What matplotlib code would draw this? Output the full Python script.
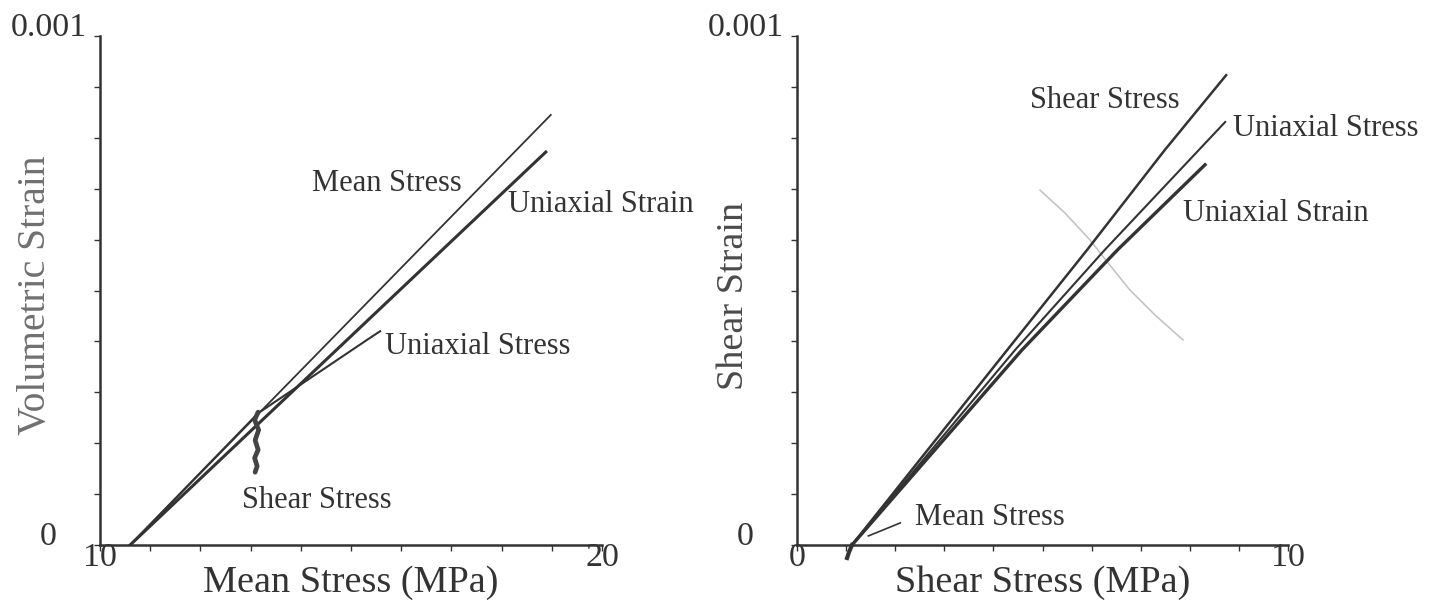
import matplotlib
matplotlib.use('Agg')
import matplotlib.pyplot as plt

plt.rcParams['font.family'] = ['Liberation Serif', 'DejaVu Serif']
INK = '#333333'

# ---- left panel: volumetric strain vs mean stress ----
left_mean_x = [10.6, 18.98]
left_mean_y = [0.0, 0.000845]
left_ustrain_x = [10.6, 18.88]
left_ustrain_y = [0.0, 0.000772]
left_ustress_x = [10.6, 13.15, 15.32, 15.58]
left_ustress_y = [0.0, 0.000259, 0.000403, 0.000420]
left_shear_x = [13.15, 13.08, 13.16, 13.09, 13.15, 13.08, 13.13, 13.09]
left_shear_y = [0.000261, 0.000246, 0.000226, 0.000206, 0.000187, 0.000171, 0.000155, 0.000143]

# ---- right panel: shear strain vs shear stress ----
right_shear_x = [1.12, 4.28, 5.91, 7.49, 8.74]
right_shear_y = [0.0, 0.000383, 0.000580, 0.000776, 0.000923]
right_ustress_x = [1.12, 4.44, 6.27, 8.72]
right_ustress_y = [0.0, 0.000383, 0.000580, 0.000831]
right_ustrain_x = [1.12, 4.58, 6.53, 8.31]
right_ustrain_y = [0.0, 0.000383, 0.000580, 0.000747]
right_mean_x = [1.12, 1.06, 1.02]
right_mean_y = [0.0, -0.0000138, -0.0000255]
arc_x = [4.95, 5.46, 5.97, 6.37, 6.78, 7.29, 7.86]
arc_y = [0.000697, 0.000652, 0.000599, 0.000550, 0.000501, 0.000452, 0.000403]

fig = plt.figure(figsize=(14.35, 6.08), dpi=100)
axL = fig.add_axes([100 / 1435, 63 / 608, 502 / 1435, 509 / 608])
axR = fig.add_axes([797 / 1435, 63 / 608, 491 / 1435, 509 / 608])


def style(ax, xlim, xticks, xlabels, xlabel, ylabel, ysize, ycolor):
    ax.set_xlim(*xlim)
    ax.set_ylim(0, 0.001)
    for s in ['top', 'right']:
        ax.spines[s].set_visible(False)
    for s in ['left', 'bottom']:
        ax.spines[s].set_linewidth(1.8)
        ax.spines[s].set_color(INK)
    ax.set_xticks(xticks)
    ax.set_xticklabels(xlabels)
    yt = [i * 0.0001 for i in range(11)]
    ax.set_yticks(yt)
    ax.set_yticklabels(['0'] + [''] * 9 + ['0.001'])
    ax.tick_params(direction='out', length=4, width=1, colors=INK, labelsize=24.5)
    ax.tick_params(axis='x', pad=-6)
    ax.tick_params(axis='y', pad=33)
    for lbl in ax.get_yticklabels():
        lbl.set_ha('center')
        lbl.set_va('baseline')
    ax.set_xlabel(xlabel, fontsize=27.5, color=INK, va='center')
    ax.xaxis.set_label_coords(0.5, -0.075)
    ax.set_ylabel(ylabel, fontsize=ysize, color=ycolor, va='center')
    ax.yaxis.set_label_coords(-0.128, 0.49)


style(axL, (10, 20), list(range(10, 21)), ['10'] + [''] * 9 + ['20'],
      'Mean Stress (MPa)', 'Volumetric Strain', 28.5, '#707070')
style(axR, (0, 10), list(range(0, 11)), ['0'] + [''] * 9 + ['10'],
      'Shear Stress (MPa)', 'Shear Strain', 27.5, '#4a4a4a')

axL.plot(left_mean_x, left_mean_y, color=INK, lw=1.3)
axL.plot(left_ustrain_x, left_ustrain_y, color=INK, lw=2.2)
axL.plot(left_ustress_x, left_ustress_y, color=INK, lw=1.5)
axL.plot(left_shear_x, left_shear_y, color='#444444', lw=3.4, solid_capstyle='round')

lbl_kw = dict(fontsize=22, color=INK, ha='left', va='center')
axL.text(14.22, 0.000711, 'Mean Stress', **lbl_kw)
axL.text(18.13, 0.000668, 'Uniaxial Strain', **lbl_kw)
axL.text(15.68, 0.000389, 'Uniaxial Stress', **lbl_kw)
axL.text(12.83, 0.0000884, 'Shear Stress', **lbl_kw)

axR.plot(arc_x, arc_y, color='#c4c4c4', lw=1.2)
axR.plot(right_shear_x, right_shear_y, color=INK, lw=1.8)
axR.plot(right_ustress_x, right_ustress_y, color=INK, lw=1.5)
axR.plot(right_ustrain_x, right_ustrain_y, color=INK, lw=2.4)
axR.plot(right_mean_x, right_mean_y, color=INK, lw=3.0, clip_on=False)

axR.text(4.75, 0.000874, 'Shear Stress', **lbl_kw)
axR.text(8.88, 0.000819, 'Uniaxial Stress', **lbl_kw)
axR.text(7.86, 0.000652, 'Uniaxial Strain', **lbl_kw)
axR.annotate('Mean Stress', xy=(1.45, 0.0000177), xytext=(2.40, 0.000055),
             fontsize=22, color=INK, ha='left', va='center',
             arrowprops=dict(arrowstyle='-', color=INK, lw=1.2, relpos=(0, 0.5),
                             shrinkA=9, shrinkB=0))

fig.savefig('out.png', dpi=100)
